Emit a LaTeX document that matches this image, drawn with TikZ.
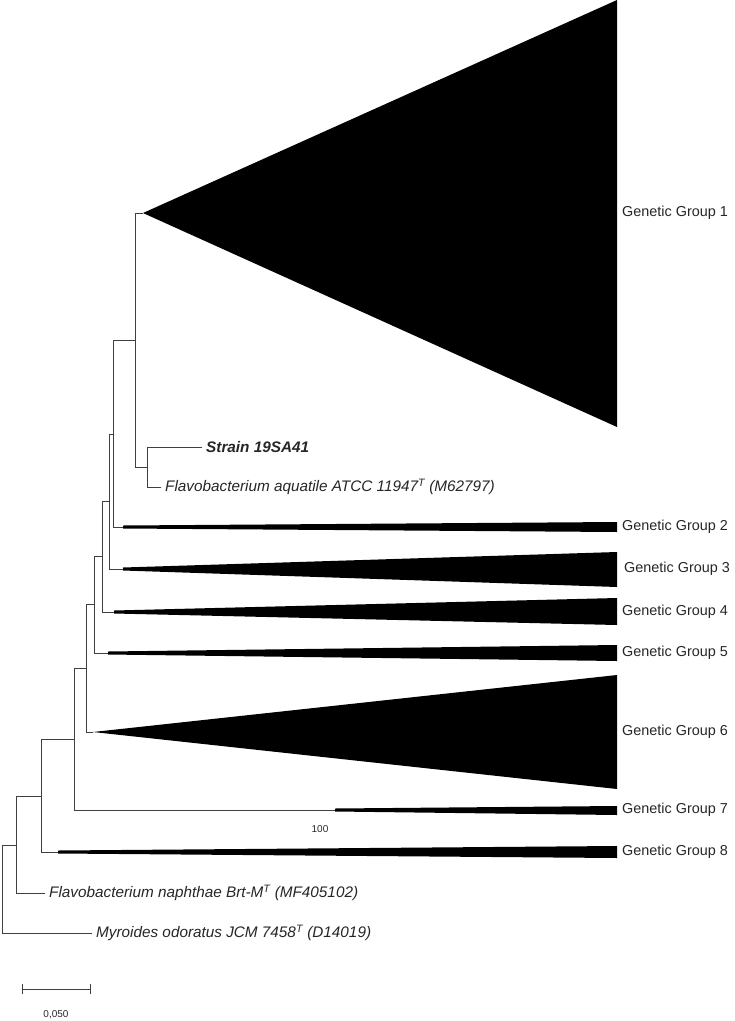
\documentclass[tikz,border=0pt]{standalone}
\usepackage{fontspec}
\setmainfont{Liberation Sans}
\begin{document}
\begin{tikzpicture}[x=1pt,y=-1pt,
  branch/.style={draw=black!75,line width=1pt},
  clade/.style={fill=black},
  grouplabel/.style={anchor=west,inner sep=2pt,font=\fontsize{14.4}{16}\selectfont,text=black!85},
  leaflabel/.style={anchor=west,inner sep=4pt,font=\fontsize{15.3}{17}\selectfont\itshape,text=black!85},
  smalllabel/.style={inner sep=1pt,font=\fontsize{10}{12}\selectfont,text=black!85}]
\useasboundingbox (0,0) rectangle (735,1021);
% internal nodes
\coordinate (A) at (135,340);
\coordinate (S) at (147,467);
\coordinate (B) at (113,434);
\coordinate (C) at (109,501);
\coordinate (D) at (102,556);
\coordinate (E) at (94,604);
\coordinate (F) at (86,668);
\coordinate (G) at (74,739);
\coordinate (H) at (41,796);
\coordinate (I) at (16,845);
\coordinate (R) at (2,889);
% clade apexes
\coordinate (g1) at (143,213);
\coordinate (g2) at (123,527);
\coordinate (g3) at (123,569);
\coordinate (g4) at (114,612);
\coordinate (g5) at (108,653);
\coordinate (g6) at (93,732);
\coordinate (g7) at (335,810);
\coordinate (g8) at (58,852);
% collapsed clades
\fill[clade] (g1) -- (617,0) -- (617,427) -- cycle;
\fill[clade] ([yshift=1.5pt]g2) -- (617,522) -- (617,532) -- ([yshift=-1.5pt]g2) -- cycle;
\fill[clade] ([yshift=1.5pt]g3) -- (617,552) -- (617,587) -- ([yshift=-1.5pt]g3) -- cycle;
\fill[clade] ([yshift=1.5pt]g4) -- (617,598) -- (617,625) -- ([yshift=-1.5pt]g4) -- cycle;
\fill[clade] ([yshift=1.5pt]g5) -- (617,645) -- (617,661) -- ([yshift=-1.5pt]g5) -- cycle;
\fill[clade] (g6) -- (617,675) -- (617,789) -- cycle;
\fill[clade] ([yshift=1.5pt]g7) -- (617,806) -- (617,815) -- ([yshift=-1.5pt]g7) -- cycle;
\fill[clade] ([yshift=1.5pt]g8) -- (617,846) -- (617,858) -- ([yshift=-1.5pt]g8) -- cycle;
% labels
\node[grouplabel] (L1) at (620,213) {Genetic Group 1};
\node[grouplabel] (L2) at (620,527) {Genetic Group 2};
\node[grouplabel] (L3) at (622,569) {Genetic Group 3};
\node[grouplabel] (L4) at (620,612) {Genetic Group 4};
\node[grouplabel] (L5) at (620,653) {Genetic Group 5};
\node[grouplabel] (L6) at (620,732) {Genetic Group 6};
\node[grouplabel] (L7) at (620,810) {Genetic Group 7};
\node[grouplabel] (L8) at (620,852) {Genetic Group 8};
\node[leaflabel,font=\fontsize{15.3}{17}\selectfont\bfseries\itshape] (strain) at (202,447) {Strain 19SA41};
\node[leaflabel] (aqua) at (161,487) {Flavobacterium aquatile ATCC 11947\textsuperscript{T} (M62797)};
\node[leaflabel] (naph) at (45,893) {Flavobacterium naphthae Brt-M\textsuperscript{T} (MF405102)};
\node[leaflabel] (myr) at (92,933) {Myroides odoratus JCM 7458\textsuperscript{T} (D14019)};
% branches
\draw[branch] (A) |- (g1);
\draw[branch] (A) |- (S);
\draw[branch] (S) |- (strain.west);
\draw[branch] (S) |- (aqua.west);
\draw[branch] (B) |- (A);
\draw[branch] (B) |- (g2);
\draw[branch] (C) |- (B);
\draw[branch] (C) |- (g3);
\draw[branch] (D) |- (C);
\draw[branch] (D) |- (g4);
\draw[branch] (E) |- (D);
\draw[branch] (E) |- (g5);
\draw[branch] (F) |- (E);
\draw[branch] (F) |- (g6);
\draw[branch] (G) |- (F);
\draw[branch] (G) |- (g7);
\draw[branch] (H) |- (G);
\draw[branch] (H) |- (g8);
\draw[branch] (I) |- (H);
\draw[branch] (I) |- (naph.west);
\draw[branch] (R) |- (I);
\draw[branch] (R) |- (myr.west);
% bootstrap
\node[smalllabel] (boot) at (320,829) {100};
% scale bar
\coordinate (sb1) at (22,989);
\coordinate (sb2) at (90,989);
\draw[branch] (sb1) -- (sb2);
\draw[branch] ([yshift=-5pt]sb1) -- ([yshift=5pt]sb1);
\draw[branch] ([yshift=-5pt]sb2) -- ([yshift=5pt]sb2);
\node[smalllabel] (sblabel) at (56,1015) {0,050};
\end{tikzpicture}
\end{document}
